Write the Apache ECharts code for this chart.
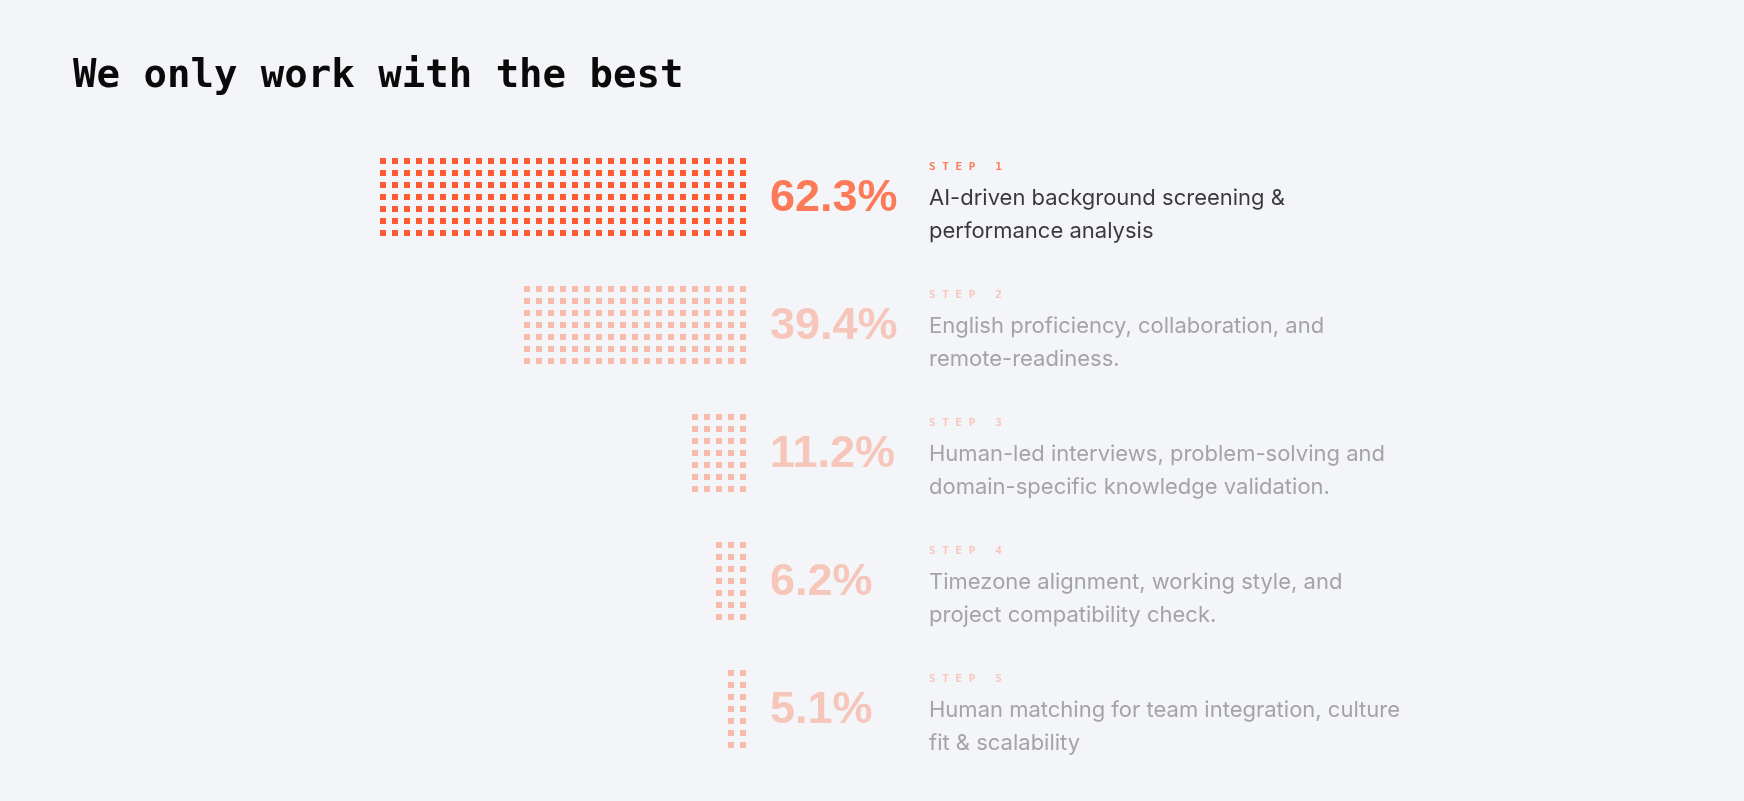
<!DOCTYPE html>
<html><head><meta charset="utf-8">
<script src="https://cdn.jsdelivr.net/npm/echarts@6/dist/echarts.min.js"></script>
<style>html,body{margin:0;padding:0;background:#F4F5F9}#c{width:1744px;height:801px}</style>
</head><body><div id="c"></div>
<script>
const steps = ['STEP 1','STEP 2','STEP 3','STEP 4','STEP 5'];
const percents = ['62.3%','39.4%','11.2%','6.2%','5.1%'];
const columns = [31, 19, 5, 3, 2];
const rowsPerStep = 7;
const descriptions = [
  ['AI-driven background screening &', 'performance analysis'],
  ['English proficiency, collaboration, and', 'remote-readiness.'],
  ['Human-led interviews, problem-solving and', 'domain-specific knowledge validation.'],
  ['Timezone alignment, working style, and', 'project compatibility check.'],
  ['Human matching for team integration, culture', 'fit & scalability']
];
const STEP_GAP = 32/3;
const strong = '#FF5B31', light = '#F8BAAA';

const dots = [];
columns.forEach((n, s) => {
  for (let c = 0; c < n; c++) for (let r = 0; r < rowsPerStep; r++)
    dots.push({value: [-c, s*STEP_GAP + r], itemStyle: {color: s === 0 ? strong : light, opacity: 1}});
});
const pctData = percents.map((p, s) => ({
  value: [2.25, s*STEP_GAP + 3.1],
  label: {formatter: p, color: s === 0 ? strong : light}
}));
const descData = descriptions.map((d, s) => ({
  value: [15.5, s*STEP_GAP - 0.75],
  label: {
    formatter: '{s|' + steps[s].split('').join('\u2009') + '}\n' + d.map(t => '{' + (s===0?'a':'d') + '|' + t + '}').join('\n'),
    rich: {
      s: {color: s === 0 ? strong : light, fontSize: 11, fontWeight: 'bold', lineHeight: 30, fontFamily: 'DejaVu Sans Mono'},
      a: {color: '#0A0A0A', fontSize: 22, lineHeight: 33, fontFamily: 'Inter'},
      d: {color: '#8E8E95', fontSize: 22, lineHeight: 33, fontFamily: 'Inter'}
    }
  }
}));

const chart = echarts.init(document.getElementById('c'));
chart.setOption({
  backgroundColor: '#F4F5F9',
  animation: false,
  title: {text: 'We only work with the best', left: 68, top: 52,
    textStyle: {fontFamily: 'DejaVu Sans Mono', fontWeight: 'bold', fontSize: 39, color: '#0A0A0A'}},
  grid: {left: 371, right: 1001, top: 161, bottom: 40},
  xAxis: {type: 'value', min: -31, max: 0, show: false},
  yAxis: {type: 'value', min: 0, max: 50, inverse: true, show: false},
  series: [
    {type: 'scatter', symbol: 'rect', symbolSize: 6, data: dots, clip: false},
    {type: 'scatter', symbolSize: 0, clip: false, data: pctData,
      label: {show: true, position: [0, 0], align: 'left', verticalAlign: 'middle',
        fontFamily: 'Liberation Sans', fontWeight: 'bold', fontSize: 45}},
    {type: 'scatter', symbolSize: 0, clip: false, data: descData,
      label: {show: true, position: [0, 0], align: 'left', verticalAlign: 'top'}}
  ]
});
</script></body></html>
